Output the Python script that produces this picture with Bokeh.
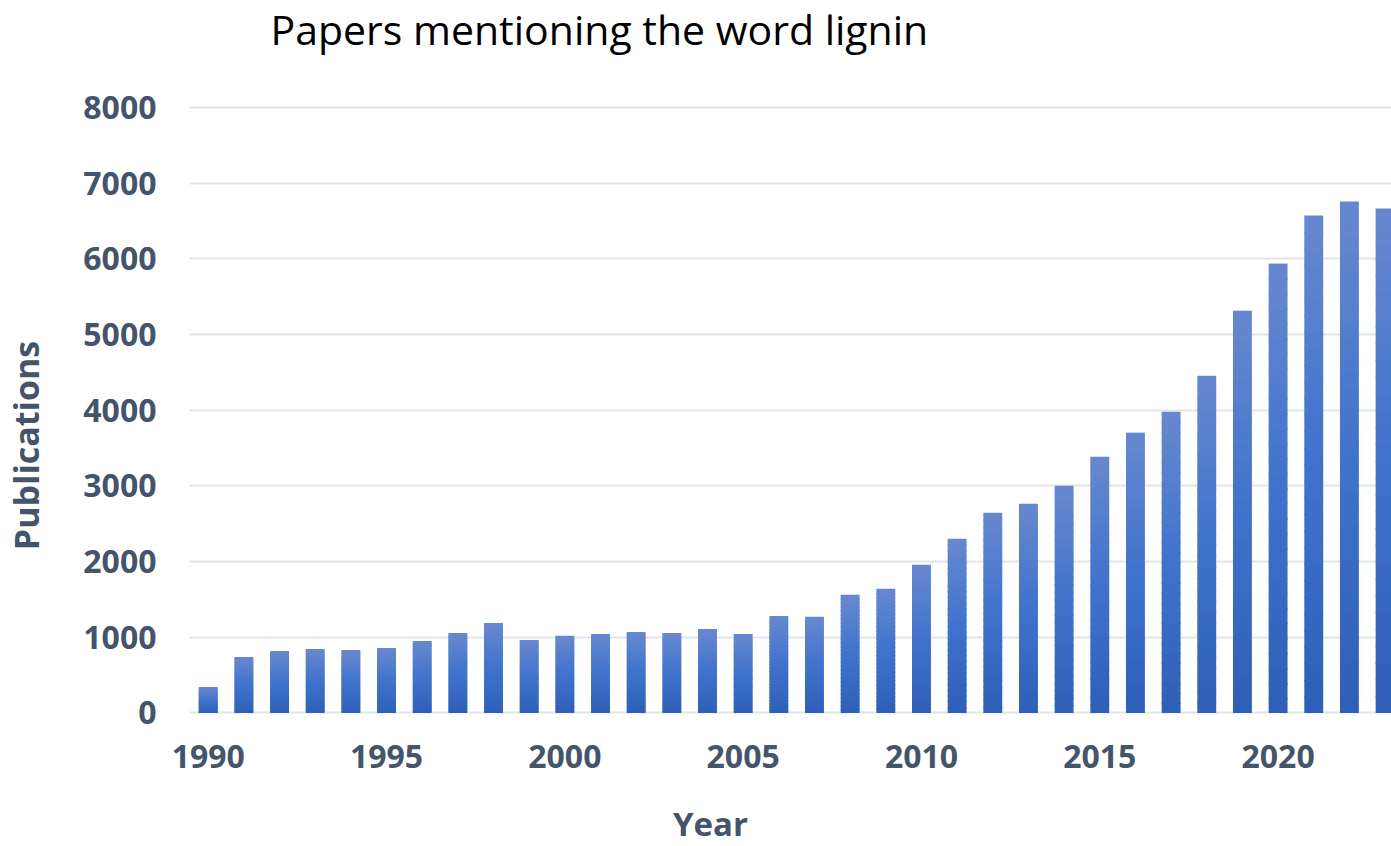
import numpy as np
from bokeh.plotting import figure
from bokeh.layouts import column, row
from bokeh.models import ColumnDataSource, FixedTicker, Range1d, Label
from bokeh.embed import file_html
from bokeh.resources import INLINE

# ---- data ----
years = list(range(1990, 2024))
publications = [344, 741, 820, 847, 833, 860, 952, 1058, 1190, 966,
                1019, 1045, 1071, 1058, 1111, 1045, 1283, 1270, 1561, 1640,
                1958, 2302, 2646, 2765, 3003, 3386, 3704, 3980, 4456, 5316,
                5938, 6573, 6758, 6665]
x_ticks = [1990, 1995, 2000, 2005, 2010, 2015, 2020]
y_ticks = [0, 1000, 2000, 3000, 4000, 5000, 6000, 7000, 8000]

title_text = "Papers mentioning the word lignin"
x_label = "Year"
y_label = "Publications"

# ---- gradient emulation: bottom dark -> middle -> top light ----
stops = [(0.0, (0x2e, 0x5f, 0xb7)), (0.5, (0x3f, 0x73, 0xcc)), (1.0, (0x67, 0x88, 0xcf))]

def grad_color(t):
    for (t0, c0), (t1, c1) in zip(stops[:-1], stops[1:]):
        if t <= t1:
            f = (t - t0) / (t1 - t0)
            c = [round(a + (b - a) * f) for a, b in zip(c0, c1)]
            return "#%02x%02x%02x" % tuple(c)
    return "#%02x%02x%02x" % stops[-1][1]

FONT = "Open Sans"
LABEL_COLOR = "#44546a"

# ---- page geometry ----
W, H = 1391, 846
TOP_H = 80          # title strip
BOTTOM_H = 62       # x-axis-title strip
LEFT_W = 60         # y-axis-title strip
MID_H = H - TOP_H - BOTTOM_H
FRAME_LEFT, FRAME_TOP, FRAME_BOTTOM = 189, 104, 714   # in page pixels

Y0, Y1 = -20, 8040
one_px = (Y1 - Y0) / (FRAME_BOTTOM - FRAME_TOP)

K = 30
xs, bots, tops, cols = [], [], [], []
for k in range(K):                       # lower slices first; each upper slice overlaps 1px down
    col = grad_color((k + 0.5) / K)
    for yr, v in zip(years, publications):
        xs.append(yr)
        bots.append(max(0.0, v * k / K - 1.2 * one_px))
        tops.append(v * (k + 1) / K)
        cols.append(col)
src = ColumnDataSource(dict(x=xs, bottom=bots, top=tops, color=cols))


def strip(width, height):
    f = figure(width=width, height=height, output_backend="svg", toolbar_location=None,
               x_axis_type=None, y_axis_type=None, x_range=Range1d(0, 1), y_range=Range1d(0, 1),
               min_border_left=0, min_border_right=0, min_border_top=0, min_border_bottom=0)
    f.outline_line_color = None
    f.background_fill_color = "white"
    f.border_fill_color = "white"
    f.grid.visible = False
    return f


# title strip
top = strip(W, TOP_H)
top.add_layout(Label(x=270, y=TOP_H - 28, x_units="screen", y_units="screen",
                     text=title_text, text_font=FONT, text_font_size="41px",
                     text_color="#000000", text_align="left", text_baseline="middle"))

# y-axis title strip
left = strip(LEFT_W, MID_H)
left.add_layout(Label(x=25, y=MID_H - (442 - TOP_H) - 73, x_units="screen", y_units="screen",
                      text=y_label, text_font=FONT, text_font_size="34px", text_font_style="bold",
                      text_color=LABEL_COLOR, text_align="center", text_baseline="middle",
                      angle=np.pi / 2))

# x-axis title strip
bottom = strip(W, BOTTOM_H)
bottom.add_layout(Label(x=710, y=BOTTOM_H - (823 - (H - BOTTOM_H)), x_units="screen", y_units="screen",
                        text=x_label, text_font=FONT, text_font_size="33px", text_font_style="bold",
                        text_color=LABEL_COLOR, text_align="center", text_baseline="middle"))

# main chart
p = figure(width=W - LEFT_W, height=MID_H, output_backend="svg", toolbar_location=None,
           x_range=Range1d(1989.475, 2023.18), y_range=Range1d(Y0, Y1),
           min_border_left=FRAME_LEFT - LEFT_W, min_border_right=0,
           min_border_top=FRAME_TOP - TOP_H, min_border_bottom=(H - BOTTOM_H) - FRAME_BOTTOM)
p.outline_line_color = None
p.background_fill_color = "white"
p.border_fill_color = "white"

p.vbar(x="x", top="top", bottom="bottom", width=0.53, fill_color="color",
       line_color=None, source=src)

for ax in (p.xaxis[0], p.yaxis[0]):
    ax.axis_line_color = None
    ax.major_tick_line_color = None
    ax.minor_tick_line_color = None
    ax.major_label_text_font = FONT
    ax.major_label_text_font_style = "bold"
    ax.major_label_text_font_size = "32px"
    ax.major_label_text_color = LABEL_COLOR

p.xaxis.ticker = FixedTicker(ticks=x_ticks)
p.yaxis.ticker = FixedTicker(ticks=y_ticks)
p.xaxis.major_label_standoff = 24
p.yaxis.major_label_standoff = 27

p.xgrid.grid_line_color = None
p.ygrid.grid_line_color = "#e1e5eb"
p.ygrid.grid_line_width = 2

page = column(top, row(left, p, spacing=0), bottom, spacing=0)

open("out.html", "w").write(file_html(page, INLINE))
